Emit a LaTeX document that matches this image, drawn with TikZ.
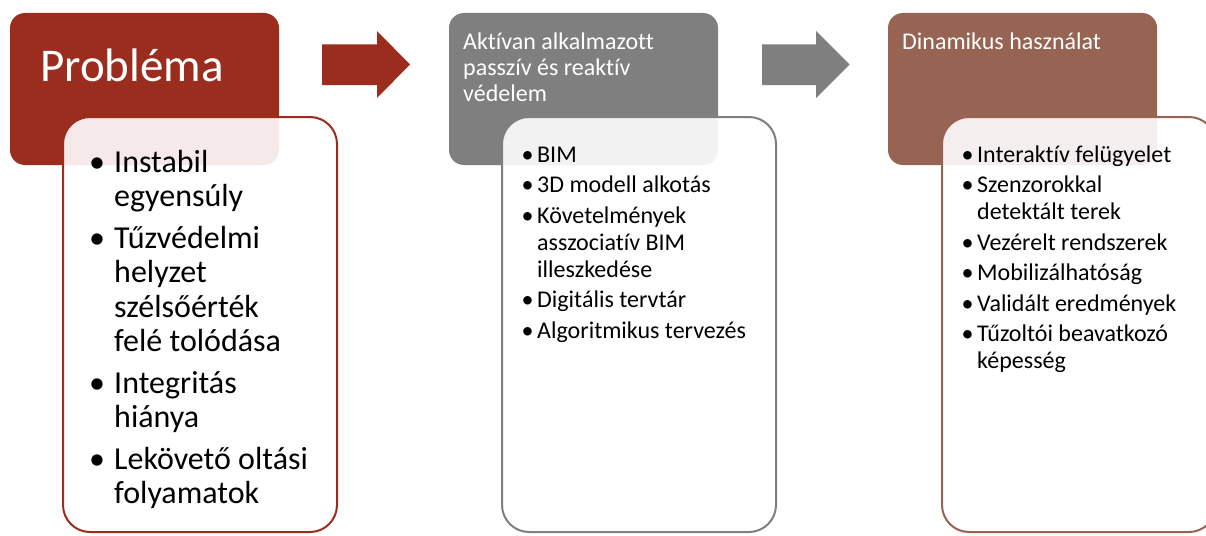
\documentclass[tikz,border=0pt]{standalone}
\usepackage{fontspec}
\setmainfont{Carlito}[Ligatures=NoCommon]
\usepackage{xcolor}
\usepackage{tikz}
\usetikzlibrary{positioning}
\usetikzlibrary{calc}

\definecolor{probred}{HTML}{9B2D1F}
\definecolor{midgray}{HTML}{7F7F7F}
\definecolor{dynbrown}{HTML}{976352}

\newlength\bind
\newlength\boff
\newcommand{\bitem}{\par\hangindent=\bind\hangafter=1\noindent\strut\makebox[\bind][l]{\hspace{\boff}•}}

\tikzset{
  headbox/.style={fill=#1, rounded corners=15pt, minimum width=269pt, minimum height=152pt,
    inner sep=0pt, outer sep=0pt, anchor=north west},
  bodybox/.style={draw=#1, line width=2pt, fill=white, fill opacity=0.9, rounded corners=27pt,
    minimum width=274pt, minimum height=415pt, inner sep=0pt, outer sep=0pt, anchor=north west},
  headtext/.style={text=white, inner sep=0pt, anchor=north west, align=flush left,
    font=\fontsize{24}{26.4}\selectfont},
  itemsbig/.style={inner sep=0pt, anchor=north west, text width=320pt, align=flush left,
    font=\fontsize{32}{34.5}\selectfont},
  itemssmall/.style={inner sep=0pt, anchor=north west, text width=320pt, align=flush left,
    font=\fontsize{24}{27}\selectfont}
}

\begin{document}
\begin{tikzpicture}[x=1pt,y=-1pt]
        \useasboundingbox (0,0) rectangle (1206,535);
        \fill[white] (0,0) rectangle (1206,535);
        \clip (0,0) rectangle (1206,535);

        % header boxes
        \node[headbox=probred] (probHead) at (10,13) {};
        \node[headbox=midgray] (actHead) at (449,13) {};
        \node[headbox=dynbrown] (dynHead) at (888,13) {};

        % block arrows
        \fill[probred,shift={(probHead.north east)}] (43,31.3)--(98,31.3)--(98,18)--(131,51.5)--(98,85)--(98,72)--(43,72)--cycle;
        \fill[midgray,shift={(actHead.north east)}] (44,31.3)--(98,31.3)--(98,18)--(131.5,51.5)--(98,85)--(98,72)--(44,72)--cycle;

        % body boxes
        \node[bodybox=probred] (probBody) at (63,117) {};
        \node[bodybox=midgray] (actBody) at (502,117) {};
        \node[bodybox=dynbrown] (dynBody) at (942,117) {};

        % header texts
        \node[headtext,font=\fontsize{47}{50}\selectfont,anchor=base west] (probTitle)
            at ([shift={(30,68.7)}]probHead.north west) {Probléma};
        \node[headtext] (actTitle) at ([shift={(14,17.5)}]actHead.north west)
            {\strut Aktívan alkalmazott\\passzív és reaktív\\védelem};
        \node[headtext] (dynTitle) at ([shift={(14,17.5)}]dynHead.north west)
            {\strut Dinamikus használat};

        % bullet lists
        \node[itemsbig] (probItems) at ([shift={(0,13.4)}]probBody.north west)
            {\setlength\bind{51pt}\setlength\boff{26pt}\setlength\parskip{7pt}%
             \bitem Instabil\newline egyensúly
             \bitem Tűzvédelmi\newline helyzet\newline szélsőérték\newline felé tolódása
             \bitem Integritás\newline hiánya
             \bitem Lekövető oltási\newline folyamatok\par};
        \node[itemssmall] (actItems) at ([shift={(0,14.5)}]actBody.north west)
            {\setlength\bind{35pt}\setlength\boff{19.5pt}\setlength\parskip{3.5pt}%
             \bitem BIM
             \bitem 3D modell alkotás
             \bitem Követelmények\newline asszociatív BIM\newline illeszkedése
             \bitem Digitális tervtár
             \bitem Algoritmikus tervezés\par};
        \node[itemssmall] (dynItems) at ([shift={(0,14.5)}]dynBody.north west)
            {\setlength\bind{35pt}\setlength\boff{19.5pt}\setlength\parskip{3.5pt}%
             \bitem Interaktív felügyelet
             \bitem Szenzorokkal\newline detektált terek
             \bitem Vezérelt rendszerek
             \bitem Mobilizálhatóság
             \bitem Validált eredmények
             \bitem Tűzoltói beavatkozó\newline képesség\par};
    \end{tikzpicture}
\end{document}
